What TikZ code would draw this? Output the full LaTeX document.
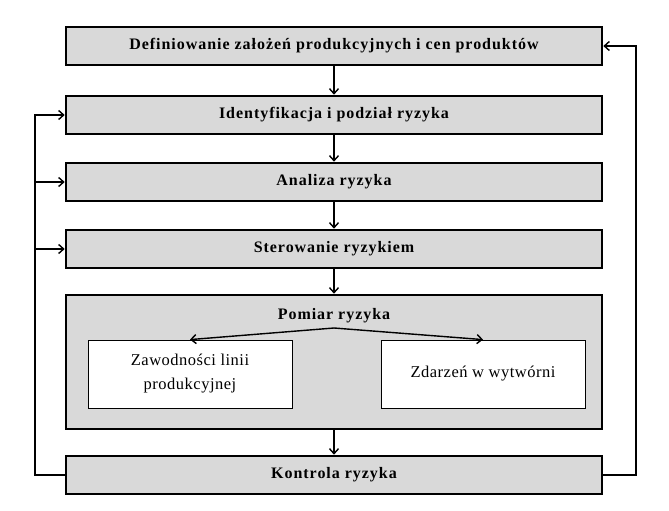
\documentclass[tikz,border=0pt]{standalone}
\usepackage{fontspec}
\setmainfont{Liberation Serif}
\usepackage{tikz}
\usetikzlibrary{positioning,arrows.meta}
\definecolor{boxgray}{HTML}{D9D9D9}
\newfontfamily\stagefont[LetterSpace=6]{Liberation Serif}
\newfontfamily\subfont[LetterSpace=3]{Liberation Serif}
\tikzset{
	stage/.style={draw, line width=2.6pt, fill=boxgray, minimum width=536pt, minimum height=38pt, font=\stagefont\bfseries\fontsize{16}{18}\selectfont, inner sep=0pt},
	sub/.style={draw, line width=0.8pt, fill=white, minimum width=204pt, minimum height=68pt, align=center, font=\subfont\fontsize{16.5}{24}\selectfont},
	flow/.style={-{Straight Barb[length=5pt,width=9pt]}, line width=1.4pt}
}
\begin{document}
\begin{tikzpicture}[x=1pt,y=-1pt]
	\useasboundingbox (0,0) rectangle (669,511);
	%\draw[help lines] (0,0) grid[step=50] (669,511);
	\node[stage] (def) at (334,46) {Definiowanie założeń produkcyjnych i cen produktów};
	\node[stage] (ide) at (334,115) {Identyfikacja i podział ryzyka};
	\node[stage] (ana) at (334,182) {Analiza ryzyka};
	\node[stage] (ste) at (334,249) {Sterowanie ryzykiem};
	\node[stage, minimum height=134pt] (pom) at (334,362) {};
	\node[font=\stagefont\bfseries\fontsize{16}{18}\selectfont] (pomt) at (334,316) {Pomiar ryzyka};
	\node[sub] (zaw) at (190,374) {Zawodności linii\\produkcyjnej};
	\node[sub] (zda) at (483,374) {Zdarzeń w wytwórni};
	\node[stage] (kon) at (334,475) {Kontrola ryzyka};
	\draw[flow] (def) -- (ide);
	\draw[flow] (ide) -- (ana);
	\draw[flow] (ana) -- (ste);
	\draw[flow] (ste) -- (pom);
	\draw[flow] (pom) -- (kon);
	\coordinate (top) at (334,328);
	\draw[flow] (top) -- (zaw.north);
	\draw[flow] (top) -- (zda.north);
	\draw[flow] (kon.west) -| (35,115) -- (ide.west);
	\draw[flow] (35,182) -- (ana.west);
	\draw[flow] (35,249) -- (ste.west);
	\draw[flow] (kon.east) -| (636,46) -- (def.east);
\end{tikzpicture}
\end{document}
